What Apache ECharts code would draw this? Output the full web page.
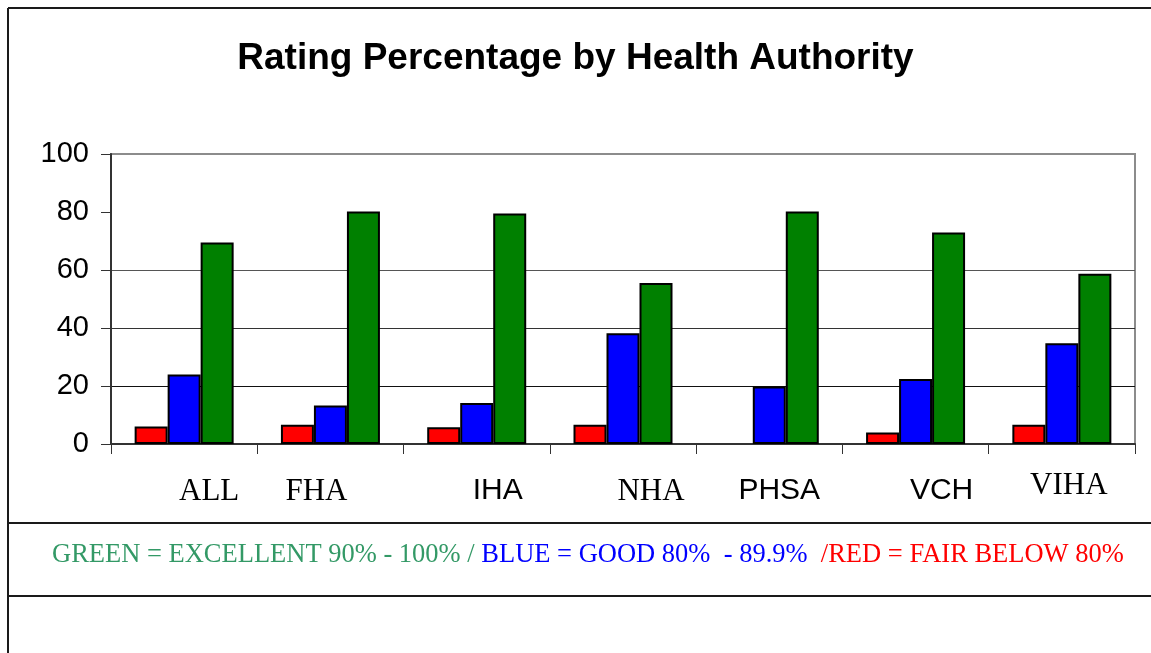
<!DOCTYPE html>
<html>
<head>
<meta charset="utf-8">
<title>Rating Percentage by Health Authority</title>
<script src="https://cdn.jsdelivr.net/npm/echarts@6/dist/echarts.min.js"></script>
<style>
  html, body { margin: 0; padding: 0; background: #fff; }
  #chart { width: 1151px; height: 653px; }
</style>
</head>
<body>
<div id="chart"></div>
<script>
var authorities = ['ALL', 'FHA', 'IHA', 'NHA', 'PHSA', 'VCH', 'VIHA']
var fairRed = [6, 6.6, 5.8, 6.6, 0, 4, 6.6]
var goodBlue = [24, 13.3, 14.1, 38.2, 19.8, 22.4, 34.7]
var excellentGreen = [69.5, 80.2, 79.5, 55.5, 80.2, 72.9, 58.7]
var yTicks = [0, 20, 40, 60, 80, 100]

var chart = echarts.init(document.getElementById('chart'), null, { renderer: 'canvas' })

// the x labels in the original sit in loose text boxes, some serif, some sans
var serif = 'Liberation Serif, Times New Roman, serif'
var sans = 'Liberation Sans, Arial, sans-serif'
var labelRich = {
  ALL: { fontFamily: serif, fontSize: 31, padding: [16, 0, 0, 50] },
  FHA: { fontFamily: serif, fontSize: 31, padding: [16, 28, 0, 0] },
  IHA: { fontFamily: sans, fontSize: 30, padding: [16, 0, 0, 42] },
  NHA: { fontFamily: serif, fontSize: 31, padding: [16, 0, 0, 56] },
  PHSA: { fontFamily: sans, fontSize: 30, padding: [16, 0, 0, 20] },
  VCH: { fontFamily: sans, fontSize: 30, padding: [16, 0, 0, 52] },
  VIHA: { fontFamily: serif, fontSize: 31, padding: [10, 0, 0, 14] }
}

function barSeries(name, color, data) {
  return {
    name: name,
    type: 'bar',
    // a zero bar has no outline in the original
    data: data.map(function (v) {
      return v === 0 ? { value: v, itemStyle: { borderWidth: 0 } } : v
    }),
    barWidth: 33,
    barGap: '0%',
    itemStyle: {
      color: color,
      borderColor: '#000',
      borderWidth: 2
    }
  }
}

var option = {
  animation: false,
  backgroundColor: '#fff',
  title: [{
    text: 'Rating Percentage by Health Authority',
    left: 'center',
    top: 35,
    textStyle: {
      fontFamily: sans,
      fontWeight: 'bold',
      fontSize: 37,
      color: '#000'
    }
  }, {
    text: '{g|GREEN = EXCELLENT 90% - 100% / }{b|BLUE = GOOD 80%  - 89.9%  }{r|/RED = FAIR BELOW 80%}',
    left: 47,
    top: 537,
    textStyle: {
      fontWeight: 'normal',
      rich: {
        g: { color: '#339966', fontFamily: serif, fontSize: 26.5, fontWeight: 'normal' },
        b: { color: '#0000ff', fontFamily: serif, fontSize: 26.5, fontWeight: 'normal' },
        r: { color: '#ff0000', fontFamily: serif, fontSize: 26.5, fontWeight: 'normal' }
      }
    }
  }],
  grid: {
    left: 111,
    right: 16,
    top: 154,
    bottom: 209,
    show: true,
    borderColor: '#8c8c8c',
    borderWidth: 2
  },
  xAxis: {
    type: 'category',
    data: authorities,
    axisLine: { lineStyle: { color: '#333', width: 2 } },
    axisTick: { show: true, length: 10, lineStyle: { color: '#333', width: 1 } },
    axisLabel: {
      margin: 16,
      color: '#000',
      formatter: function (v) { return '{' + v + '|' + v + '}' },
      rich: labelRich
    }
  },
  yAxis: {
    type: 'value',
    min: 0,
    max: 100,
    interval: 20,
    axisLine: { show: true, lineStyle: { color: '#333', width: 2 } },
    axisTick: { show: true, length: 10, lineStyle: { color: '#333', width: 1 } },
    axisLabel: {
      margin: 22,
      color: '#000',
      fontFamily: sans,
      fontSize: 29,
      formatter: function (v) { return yTicks.indexOf(v) >= 0 ? String(v) : '' }
    },
    splitLine: {
      show: true,
      showMinLine: true,
      showMaxLine: true,
      // no line at 80 in the original
      lineStyle: { color: ['#000', '#111', '#333', '#555', 'rgba(0,0,0,0)', '#8c8c8c'], width: 1 }
    }
  },
  series: [
    barSeries('FAIR', '#ff0000', fairRed),
    barSeries('GOOD', '#0000ff', goodBlue),
    barSeries('EXCELLENT', '#008000', excellentGreen)
  ],
  graphic: [
    { type: 'line', shape: { x1: 8, y1: 8, x2: 8, y2: 653 }, style: { stroke: '#1a1a1a', lineWidth: 2 } },
    { type: 'line', shape: { x1: 8, y1: 8, x2: 1151, y2: 8 }, style: { stroke: '#1a1a1a', lineWidth: 2 } },
    { type: 'line', shape: { x1: 8, y1: 523, x2: 1151, y2: 523 }, style: { stroke: '#1a1a1a', lineWidth: 2 } },
    { type: 'line', shape: { x1: 8, y1: 596, x2: 1151, y2: 596 }, style: { stroke: '#1a1a1a', lineWidth: 2 } }
  ]
}

chart.setOption(option)
</script>
</body>
</html>
